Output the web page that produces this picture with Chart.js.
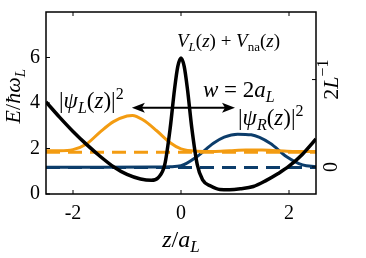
<!DOCTYPE html>
<html>
<head>
<meta charset="utf-8">
<script src="https://cdn.jsdelivr.net/npm/chart.js@4/dist/chart.umd.min.js"></script>
<style>
  body { margin: 0; background: #fff; }
  canvas { display: block; }
</style>
</head>
<body>
<canvas id="myChart" width="366" height="258"></canvas>
<script>
// potential V_L(z) + V_na(z)
var zPot = [-2.5, -2.25, -2.0, -1.75, -1.5, -1.25, -1.0, -0.75, -0.55, -0.42, -0.3, -0.2, -0.12, -0.06, 0, 0.06, 0.12, 0.2, 0.3, 0.4, 0.55, 0.72, 0.9, 1.1, 1.34, 1.58, 1.8, 2.0, 2.25, 2.5];
var ePot = [4.05, 3.38, 2.75, 2.18, 1.66, 1.2, 0.86, 0.66, 0.6, 0.72, 1.3, 2.9, 4.6, 5.6, 5.98, 5.6, 4.6, 2.9, 1.3, 0.62, 0.35, 0.2, 0.19, 0.23, 0.33, 0.6, 0.9, 1.22, 1.75, 2.42];

// |psi_L(z)|^2 (offset by its energy)
var zLeft = [-2.5, -2.25, -2.0, -1.75, -1.5, -1.25, -1.0, -0.9, -0.7, -0.45, -0.2, 0, 0.3, 0.6, 0.9, 1.2, 1.5, 1.8, 2.1, 2.5];
var eLeft = [1.9, 1.9, 1.95, 2.2, 2.72, 3.18, 3.43, 3.45, 3.25, 2.78, 2.25, 1.98, 1.88, 1.87, 1.9, 1.93, 1.93, 1.9, 1.87, 1.87];

// |psi_R(z)|^2
var zRight = [-2.5, -1.5, -0.5, -0.2, 0, 0.3, 0.6, 0.8, 1.05, 1.3, 1.65, 1.95, 2.25, 2.5];
var eRight = [1.18, 1.18, 1.19, 1.2, 1.24, 1.65, 2.23, 2.5, 2.63, 2.6, 2.23, 1.65, 1.28, 1.2];

// eigen energies (dashed lines)
var zLevel = [-2.5, 2.5];
var levelLeft = [1.84, 1.84];
var levelRight = [1.17, 1.17];

var xTicks = [-2, 0, 2];
var yTicks = [0, 2, 4, 6];
var rightTicks = [0, 2];
// right axis: 0 sits at E = 1.19, 2L^-1 at E = 5.03
var rightZeroE = 1.19, rightTwoE = 5.03;

// arrow w = 2a_L
var arrowZ = [-0.91, 1.0];
var arrowE = 3.79;

var orange = '#F39C12';
var blue = '#0C3D6B';
var serif = 'Liberation Serif';

function pts(xs, ys) {
    return xs.map(function (x, i) { return { x: x, y: ys[i] }; });
}

// draws a run of text pieces: [text, italic?, sizeScale, dy]
function drawRich(ctx, x, y, parts, size, align) {
    var total = 0;
    ctx.textAlign = 'left';
    parts.forEach(function (p) {
        ctx.font = (p[1] ? 'italic ' : '') + Math.round(size * (p[2] || 1)) + 'px "' + serif + '"';
        p.w = ctx.measureText(p[0]).width;
        total += p.w;
    });
    var cx = x;
    if (align === 'center') cx = x - total / 2;
    if (align === 'right') cx = x - total;
    parts.forEach(function (p) {
        ctx.font = (p[1] ? 'italic ' : '') + Math.round(size * (p[2] || 1)) + 'px "' + serif + '"';
        ctx.fillText(p[0], cx, y + (p[3] || 0));
        cx += p.w;
    });
}

var decorations = {
    id: 'decorations',
    afterDraw: function (chart) {
        var ctx = chart.ctx;
        var a = chart.chartArea;
        var x = chart.scales.x, y = chart.scales.y, y2 = chart.scales.y2;
        ctx.save();
        ctx.strokeStyle = '#000';
        ctx.fillStyle = '#000';
        ctx.lineWidth = 1.5;
        ctx.strokeRect(a.left, a.top, a.right - a.left, a.bottom - a.top);

        // inward ticks
        ctx.lineWidth = 1;
        ctx.beginPath();
        x.ticks.forEach(function (t) {
            var px = x.getPixelForValue(t.value);
            ctx.moveTo(px, a.bottom); ctx.lineTo(px, a.bottom - 4);
            ctx.moveTo(px, a.top); ctx.lineTo(px, a.top + 4);
        });
        y.ticks.forEach(function (t) {
            var py = y.getPixelForValue(t.value);
            ctx.moveTo(a.left, py); ctx.lineTo(a.left + 4, py);
        });
        y2.ticks.forEach(function (t) {
            var py = y2.getPixelForValue(t.value);
            ctx.moveTo(a.right, py); ctx.lineTo(a.right - 4, py);
        });
        ctx.stroke();

        // tick labels
        ctx.textBaseline = 'middle';
        x.ticks.forEach(function (t) {
            drawRich(ctx, x.getPixelForValue(t.value), 214, [[String(t.value), false]], 20, 'center');
        });
        y.ticks.forEach(function (t) {
            drawRich(ctx, 40, y.getPixelForValue(t.value), [[String(t.value), false]], 20, 'right');
        });

        // right axis labels, rotated
        y2.ticks.forEach(function (t, i) {
            var py = y2.getPixelForValue(t.value);
            ctx.save();
            ctx.translate(a.right + 16, py);
            ctx.rotate(-Math.PI / 2);
            if (t.value === 0) {
                drawRich(ctx, 0, 0, [['0', false]], 20, 'center');
            } else {
                drawRich(ctx, 0, 0, [['2', false], ['L', true], ['\u22121', false, 0.72, -8]], 22, 'center');
            }
            ctx.restore();
        });

        // axis titles
        ctx.textBaseline = 'alphabetic';
        drawRich(ctx, x.getPixelForValue(0), 247, [['z', true], ['/', false], ['a', true], ['L', true, 0.7, 5]], 24, 'center');
        ctx.save();
        ctx.translate(20, y.getPixelForValue(4.3));
        ctx.rotate(-Math.PI / 2);
        drawRich(ctx, 0, 0, [['E', true], ['/', false], ['\u0127\u03C9', true], ['L', true, 0.7, 5]], 22, 'center');
        ctx.restore();

        // arrow
        var ax0 = x.getPixelForValue(arrowZ[0]);
        var ax1 = x.getPixelForValue(arrowZ[1]);
        var ay = y.getPixelForValue(arrowE);
        ctx.lineWidth = 2;
        ctx.beginPath();
        ctx.moveTo(ax0 + 8, ay); ctx.lineTo(ax1 - 8, ay);
        ctx.stroke();
        ctx.beginPath();
        ctx.moveTo(ax0, ay); ctx.lineTo(ax0 + 13, ay - 5); ctx.lineTo(ax0 + 10, ay); ctx.lineTo(ax0 + 13, ay + 5); ctx.closePath();
        ctx.moveTo(ax1, ay); ctx.lineTo(ax1 - 13, ay - 5); ctx.lineTo(ax1 - 10, ay); ctx.lineTo(ax1 - 13, ay + 5); ctx.closePath();
        ctx.fill();

        // annotations
        drawRich(ctx, 177, 47, [['V', true], ['L', true, 0.7, 4], ['(', false], ['z', true], [') + ', false], ['V', true], ['na', false, 0.7, 4], ['(', false], ['z', true], [')', false]], 19, 'left');
        drawRich(ctx, 203, 97, [['w', true], [' = 2', false], ['a', true], ['L', true, 0.7, 5]], 23, 'left');
        drawRich(ctx, 59, 108, [['|', false], ['\u03C8', true], ['L', true, 0.7, 5], ['(', false], ['z', true], [')|', false], ['2', false, 0.7, -9]], 23, 'left');
        drawRich(ctx, 238, 125, [['|', false], ['\u03C8', true], ['R', true, 0.7, 5], ['(', false], ['z', true], [')|', false], ['2', false, 0.7, -9]], 23, 'left');
        ctx.restore();
    }
};

var ctx = document.getElementById('myChart').getContext('2d');
var myChart = new Chart(ctx, {
    type: 'line',
    data: {
        datasets: [
            { data: pts(zPot, ePot), borderColor: '#000', borderWidth: 3.5, cubicInterpolationMode: 'monotone', pointRadius: 0, order: 0 },
            { data: pts(zLeft, eLeft), borderColor: orange, borderWidth: 3, cubicInterpolationMode: 'monotone', pointRadius: 0, order: 2 },
            { data: pts(zLevel, levelLeft), borderColor: orange, borderWidth: 3, borderDash: [14, 8], pointRadius: 0, order: 3 },
            { data: pts(zRight, eRight), borderColor: blue, borderWidth: 3, cubicInterpolationMode: 'monotone', pointRadius: 0, order: 4 },
            { data: pts(zLevel, levelRight), borderColor: blue, borderWidth: 3, borderDash: [14, 8], pointRadius: 0, order: 5 }
        ]
    },
    options: {
        responsive: false,
        animation: false,
        layout: { padding: { top: 12, left: 0, right: 0, bottom: 0 } },
        plugins: { legend: { display: false }, tooltip: { enabled: false } },
        scales: {
            x: {
                type: 'linear', min: -2.5, max: 2.5,
                afterBuildTicks: function (s) { s.ticks = xTicks.map(function (v) { return { value: v }; }); },
                afterFit: function (s) { s.height = 64; },
                grid: { display: false, drawTicks: false },
                border: { display: false },
                ticks: { display: false }
            },
            y: {
                min: 0, max: 8,
                afterBuildTicks: function (s) { s.ticks = yTicks.map(function (v) { return { value: v }; }); },
                afterFit: function (s) { s.width = 46; },
                grid: { display: false, drawTicks: false },
                border: { display: false },
                ticks: { display: false }
            },
            y2: {
                position: 'right',
                min: (0 - rightZeroE) * 2 / (rightTwoE - rightZeroE),
                max: (8 - rightZeroE) * 2 / (rightTwoE - rightZeroE),
                afterBuildTicks: function (s) { s.ticks = rightTicks.map(function (v) { return { value: v }; }); },
                afterFit: function (s) { s.width = 50; },
                grid: { display: false, drawTicks: false },
                border: { display: false },
                ticks: { display: false }
            }
        }
    },
    plugins: [decorations]
});
</script>
</body>
</html>
